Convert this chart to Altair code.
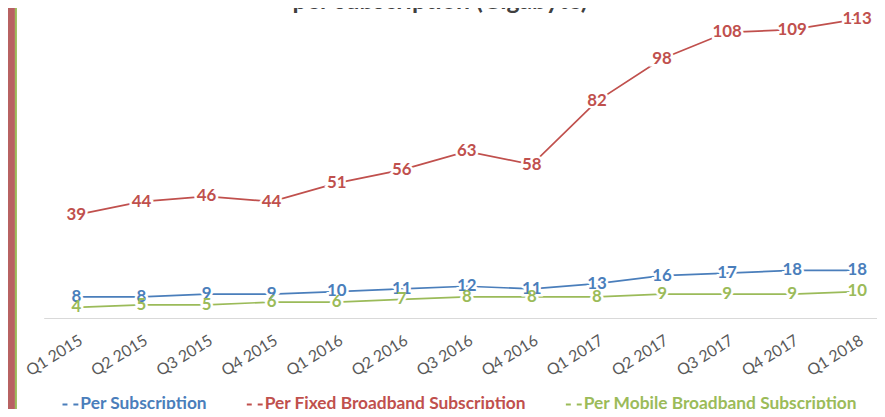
import altair as alt
import pandas as pd

categories = ["Q1 2015", "Q2 2015", "Q3 2015", "Q4 2015", "Q1 2016", "Q2 2016", "Q3 2016",
              "Q4 2016", "Q1 2017", "Q2 2017", "Q3 2017", "Q4 2017", "Q1 2018"]
series_names = ["Per Subscription", "Per Fixed Broadband Subscription", "Per Mobile Broadband Subscription"]
per_subscription = [8, 8, 9, 9, 10, 11, 12, 11, 13, 16, 17, 18, 18]
per_fixed = [39, 44, 46, 44, 51, 56, 63, 58, 82, 98, 108, 109, 113]
per_mobile = [4, 5, 5, 6, 6, 7, 8, 8, 8, 9, 9, 9, 10]
colors = ["#4a7ebb", "#c0504d", "#9bbb59"]
title_text = "per subscription (Gigabyte)"

rows = []
for name, vals in zip(series_names, [per_subscription, per_fixed, per_mobile]):
    for i, (c, v) in enumerate(zip(categories, vals)):
        rows.append({"idx": i, "quarter": c, "series": name, "value": v})
df = pd.DataFrame(rows)

FONT = "Lato"
label_expr = "[" + ",".join("'%s'" % c for c in categories) + "][datum.value]"
label_color_expr = ("datum.label == '%s' ? '%s' : datum.label == '%s' ? '%s' : '%s'"
                    % (series_names[0], colors[0], series_names[1], colors[1], colors[2]))

x_enc = alt.X("idx:Q", scale=alt.Scale(domain=[-0.5025, 12.304], nice=False, zero=False),
              axis=alt.Axis(values=list(range(len(categories))), labelExpr=label_expr, title=None,
                            grid=False, ticks=False, domainColor="#d9d9d9", domainWidth=1,
                            labelAngle=-32, labelAlign="right", labelBaseline="top",
                            labelPadding=14, labelFont=FONT, labelFontSize=16,
                            labelColor="#595959", labelOverlap=False))
y_enc = alt.Y("value:Q", scale=alt.Scale(domain=[0, 116.5], nice=False), axis=None)
color_scale = alt.Scale(domain=series_names, range=colors)

base = alt.Chart(df)

lines = base.mark_line(strokeWidth=1.75).encode(
    x=x_enc, y=y_enc,
    color=alt.Color("series:N", scale=color_scale, sort=series_names,
                    legend=alt.Legend(title=None, orient="none", direction="horizontal",
                                      legendX=18, legendY=389, padding=0,
                                      symbolType="stroke", symbolSize=256, symbolStrokeWidth=2,
                                      symbolDash=[5, 6], labelOffset=1, columnPadding=36,
                                      labelFont=FONT, labelFontSize=17.5, labelFontWeight="bold",
                                      labelColor={"expr": label_color_expr}, labelLimit=400)),
    order=alt.Order("idx:Q"),
)

halo = base.mark_text(font=FONT, fontSize=17, fontWeight="bold", fill="white",
                      stroke="white", strokeWidth=5).encode(
    x=x_enc, y=y_enc, text="value:Q")

labels = base.mark_text(font=FONT, fontSize=17, fontWeight="bold").encode(
    x=x_enc, y=y_enc, text="value:Q",
    color=alt.Color("series:N", scale=color_scale, legend=None))

deco = pd.DataFrame({"t": [title_text]})
left_bar = alt.Chart(deco).mark_rect(color="#b86262").encode(
    x=alt.value(-44), x2=alt.value(-29), y=alt.value(-10), y2=alt.value(420))
left_line = alt.Chart(deco).mark_rect(color="#9bbb59").encode(
    x=alt.value(-29), x2=alt.value(-27), y=alt.value(-10), y2=alt.value(420))
title = alt.Chart(deco).mark_text(font=FONT, fontSize=25, fontWeight="bold", color="#404040",
                                  baseline="alphabetic").encode(
    x=alt.value(400), y=alt.value(-1), text="t:N")

chart = alt.layer(left_bar, left_line, title, lines, halo, labels).properties(
    width=841, height=311,
    autosize=alt.AutoSizeParams(type="none"),
    padding={"left": 36, "top": 0, "right": 0, "bottom": 90},
).configure_view(stroke=None)

chart.save("out.html", embed_options={"renderer": "svg", "actions": False})
